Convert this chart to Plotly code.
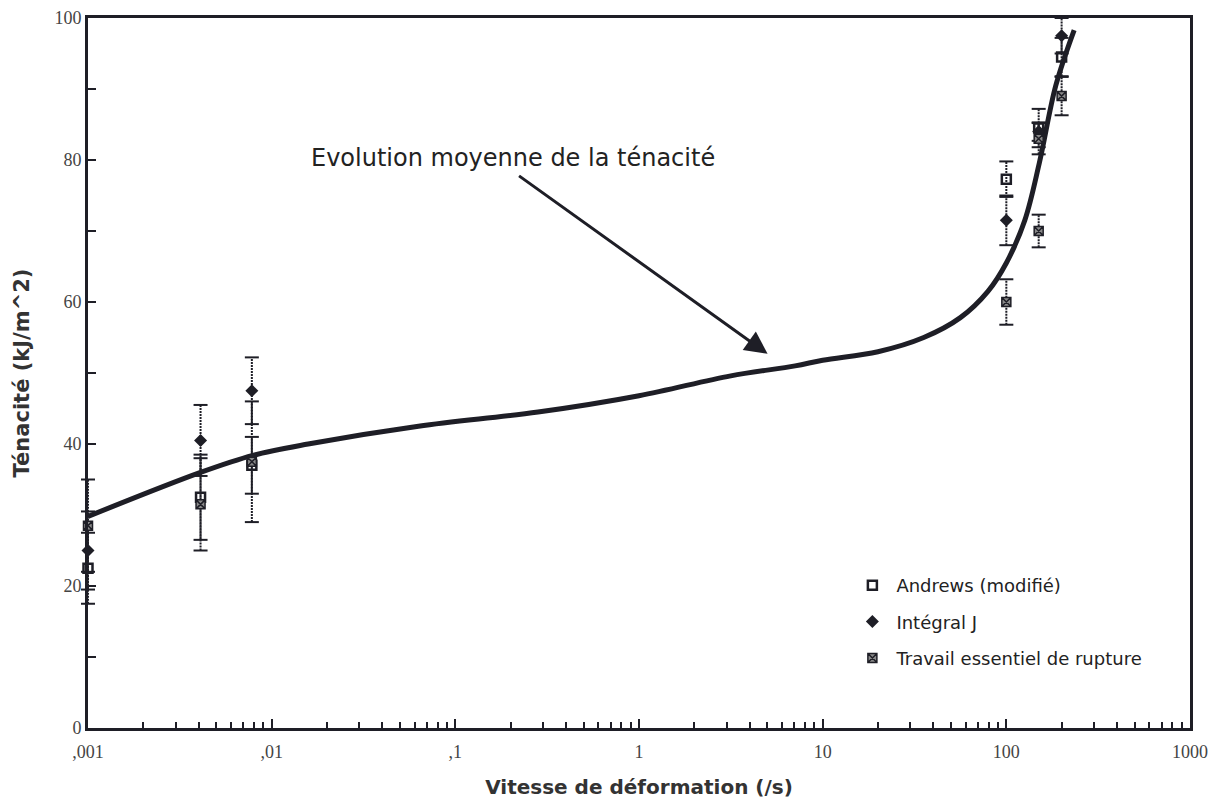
import plotly.graph_objects as go

# Mean toughness trend (strain rate in 1/s, toughness in kJ/m^2)
curve_rate = [0.001, 0.0041, 0.0079, 0.0158, 0.063, 0.282, 1.0, 3.16, 7.08,
              10.0, 20.0, 35.5, 56.2, 79.4, 100, 126, 151, 186, 234]
curve_tough = [29.8, 36.0, 38.4, 40.0, 42.5, 44.5, 46.8, 49.6, 51.0,
               51.8, 53.0, 55.0, 57.8, 61.5, 65.5, 71.5, 79.5, 90.5, 98.3]

# Andrews (modifié)
andrews_rate = [0.001, 0.0041, 0.0078, 100, 150, 200]
andrews_tough = [22.5, 32.5, 37.0, 77.3, 84.5, 94.5]
andrews_err = [5.0, 6.0, 4.0, 2.5, 2.7, 2.7]

# Intégral J
j_rate = [0.001, 0.0041, 0.0078, 100, 150, 200]
j_tough = [25.0, 40.5, 47.5, 71.5, 84.0, 97.5]
j_err = [5.5, 5.0, 4.7, 3.5, 1.3, 2.5]

# Travail essentiel de rupture
ewf_rate = [0.001, 0.0041, 0.0078, 100, 150, 150, 200]
ewf_tough = [28.5, 31.5, 37.5, 60.0, 70.0, 83.0, 89.0]
ewf_err = [6.5, 6.5, 8.5, 3.2, 2.3, 2.2, 2.7]

decades = [0.001, 0.01, 0.1, 1, 10, 100, 1000]
decade_labels = [",001", ",01", ",1", "1", "10", "100", "1000"]
y_ticks = [0, 20, 40, 60, 80, 100]

INK = "#1e1e26"
SERIF = "Liberation Serif, Times New Roman, serif"
SANS = "DejaVu Sans, Arial, sans-serif"

fig = go.Figure()


def add_error_bars(xs, ys, errs):
    seg_x, seg_y, cap_x, cap_y = [], [], [], []
    for x, y, e in zip(xs, ys, errs):
        seg_x += [x, x, None]
        seg_y += [y - e, y + e, None]
        cap_x += [x, x]
        cap_y += [y - e, y + e]
    fig.add_trace(go.Scatter(x=seg_x, y=seg_y, mode="lines", showlegend=False,
                             line=dict(color=INK, width=2, dash="2px,1px"),
                             hoverinfo="skip", cliponaxis=False))
    fig.add_trace(go.Scatter(x=cap_x, y=cap_y, mode="markers", showlegend=False,
                             marker=dict(symbol="line-ew", size=10,
                                         line=dict(color=INK, width=2)),
                             hoverinfo="skip", cliponaxis=False))


add_error_bars(andrews_rate, andrews_tough, andrews_err)
add_error_bars(j_rate, j_tough, j_err)
add_error_bars(ewf_rate, ewf_tough, ewf_err)

# Mean trend curve
fig.add_trace(go.Scatter(x=curve_rate, y=curve_tough, mode="lines",
                         line=dict(color=INK, width=5, shape="spline", smoothing=1.0),
                         showlegend=False, hoverinfo="skip"))

fig.add_trace(go.Scatter(x=andrews_rate, y=andrews_tough, mode="markers",
                         name="Andrews (modifié)", legendgroup="a",
                         marker=dict(symbol="square-open", size=9, color=INK,
                                     line=dict(color=INK, width=2.5)),
                         cliponaxis=False))
fig.add_trace(go.Scatter(x=j_rate, y=j_tough, mode="markers",
                         name="Intégral J", legendgroup="j",
                         marker=dict(symbol="diamond", size=10, color=INK),
                         cliponaxis=False))
fig.add_trace(go.Scatter(x=ewf_rate, y=ewf_tough, mode="markers",
                         name="Travail essentiel de rupture", legendgroup="w",
                         marker=dict(symbol="square-x", size=9, color="#8a8a8a",
                                     line=dict(color=INK, width=1.5)),
                         cliponaxis=False))

fig.add_annotation(text="Evolution moyenne de la ténacité", xref="paper", yref="paper",
                   x=0.3857, y=0.8028, xanchor="center", yanchor="middle",
                   showarrow=False,
                   font=dict(family=SANS, size=24, color="#222222"))
fig.add_annotation(x=0.70, y=52.7, xref="x", yref="y", text="",
                   showarrow=True, ax=-250, ay=-179, arrowhead=2, arrowsize=1.5,
                   arrowwidth=3, arrowcolor=INK)

minor_x = [d * k for d in decades[:-1] for k in range(2, 10)]

fig.update_layout(
    width=1223, height=799,
    margin=dict(l=88, r=33, t=18, b=71),
    paper_bgcolor="white", plot_bgcolor="white",
    showlegend=True,
    legend=dict(x=0.69, y=0.2268, xanchor="left", yanchor="top",
                font=dict(family=SANS, size=18, color="#222222"),
                itemwidth=38,
                bgcolor="rgba(0,0,0,0)", tracegroupgap=10, traceorder="grouped"),
    xaxis=dict(type="log", range=[-3, 3], tickvals=decades, ticktext=decade_labels,
               automargin=False,
               ticks="inside", ticklen=9, tickwidth=2, tickcolor=INK,
               minor=dict(tickvals=minor_x, ticks="inside", ticklen=6,
                          tickwidth=1.5, tickcolor=INK),
               showline=True, linewidth=3, linecolor=INK, mirror=True,
               showgrid=False, zeroline=False, ticklabelstandoff=5,
               tickfont=dict(family=SERIF, size=18, color="#444444"),
               title=dict(text="<b>Vitesse de déformation (/s)</b>", standoff=27,
                          font=dict(family=SANS, size=20, color="#333333"))),
    yaxis=dict(range=[0, 100], tickvals=y_ticks, automargin=False,
               ticks="inside", ticklen=8, tickwidth=2, tickcolor=INK,
               minor=dict(dtick=10, ticks="inside", ticklen=8, tickwidth=2,
                          tickcolor=INK),
               showline=True, linewidth=3, linecolor=INK, mirror=True,
               showgrid=False, zeroline=False,
               tickfont=dict(family=SERIF, size=18, color="#444444"),
               title=dict(text="<b>Ténacité (kJ/m^2)</b>", standoff=20,
                          font=dict(family=SANS, size=21, color="#333333"))),
)

fig.write_html("out.html")
